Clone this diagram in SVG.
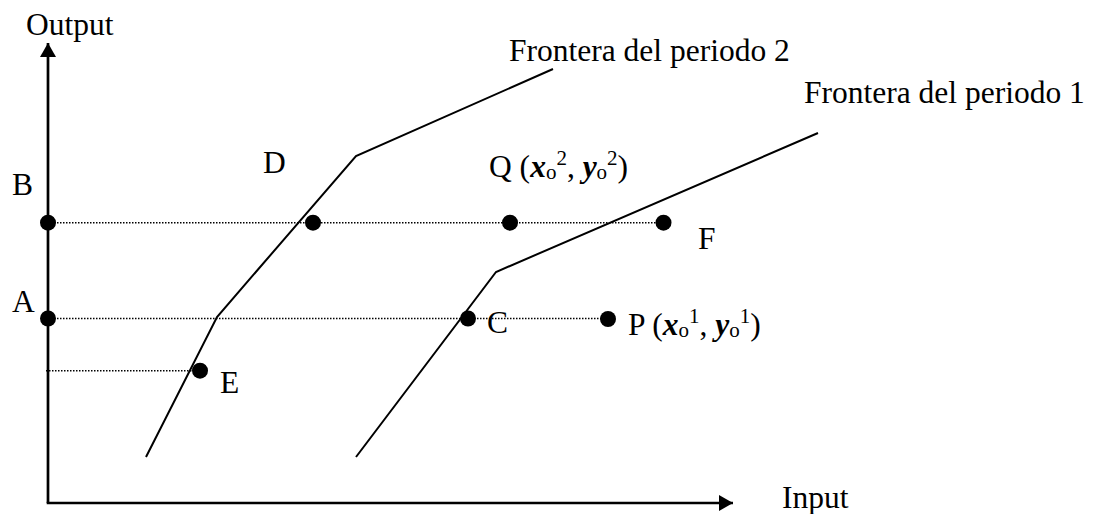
<svg xmlns="http://www.w3.org/2000/svg" width="1103" height="514" viewBox="0 0 1103 514">
<style>
.t{font-family:"Liberation Serif","Times New Roman",serif;font-size:31.5px;fill:#000}
.bi{font-weight:bold;font-style:italic}
.s{font-size:21px}
.ax{fill:none;stroke:#000;stroke-width:2.7}
.fr{fill:none;stroke:#000;stroke-width:2;stroke-linejoin:miter}
.dt{fill:none;stroke:#000;stroke-width:1.5;stroke-dasharray:1.5 1.5}
.dot{fill:#000}
</style>
<defs>
<marker id="ah" markerUnits="userSpaceOnUse" markerWidth="16" markerHeight="16" refX="14" refY="8" orient="auto">
<path d="M0,0 L14,8 L0,16 Z" fill="#000"/>
</marker>
</defs>
<g id="connectors">
<path class="ax" d="M48,503 L48,43" marker-end="url(#ah)"/>
<path class="ax" d="M46.7,503 L733,503" marker-end="url(#ah)"/>
<polyline class="fr" points="146,457 217,317 356,156 553,69"/>
<polyline class="fr" points="356,457 496,272 818,133"/>
<line class="dt" x1="48" y1="222.7" x2="663" y2="222.7"/>
<line class="dt" x1="48" y1="318.5" x2="608" y2="318.5"/>
<line class="dt" x1="46" y1="370.7" x2="200" y2="370.7"/>
</g>
<g id="axis-labels">
<text class="t" x="26" y="35">Output</text>
<text class="t" x="782" y="508">Input</text>
</g>
<g id="frontier-labels">
<text class="t" x="509" y="61">Frontera del periodo 2</text>
<text class="t" x="804" y="103">Frontera del periodo 1</text>
</g>
<g id="node-B"><circle class="dot" cx="48" cy="222.7" r="8"/><text class="t" x="12" y="195">B</text></g>
<g id="node-A"><circle class="dot" cx="48" cy="318.5" r="8"/><text class="t" x="12" y="312">A</text></g>
<g id="node-D"><circle class="dot" cx="313" cy="222.7" r="8"/><text class="t" x="263" y="173">D</text></g>
<g id="node-Q"><circle class="dot" cx="510" cy="222.7" r="8"/><text class="t" x="489" y="177">Q (<tspan class="bi">x</tspan><tspan class="s" dy="2">o</tspan><tspan class="s" dy="-14">2</tspan><tspan dy="12">, </tspan><tspan class="bi">y</tspan><tspan class="s" dy="2">o</tspan><tspan class="s" dy="-14">2</tspan><tspan dy="12">)</tspan></text></g>
<g id="node-F"><circle class="dot" cx="663.5" cy="222.7" r="8"/><text class="t" x="698" y="249">F</text></g>
<g id="node-C"><circle class="dot" cx="468" cy="318.5" r="8"/><text class="t" x="487" y="333">C</text></g>
<g id="node-P"><circle class="dot" cx="608" cy="319" r="8"/><text class="t" x="628" y="335">P (<tspan class="bi">x</tspan><tspan class="s" dy="2">o</tspan><tspan class="s" dy="-14">1</tspan><tspan dy="12">, </tspan><tspan class="bi">y</tspan><tspan class="s" dy="2">o</tspan><tspan class="s" dy="-14">1</tspan><tspan dy="12">)</tspan></text></g>
<g id="node-E"><circle class="dot" cx="200" cy="370.7" r="8"/><text class="t" x="220" y="393">E</text></g>
</svg>
